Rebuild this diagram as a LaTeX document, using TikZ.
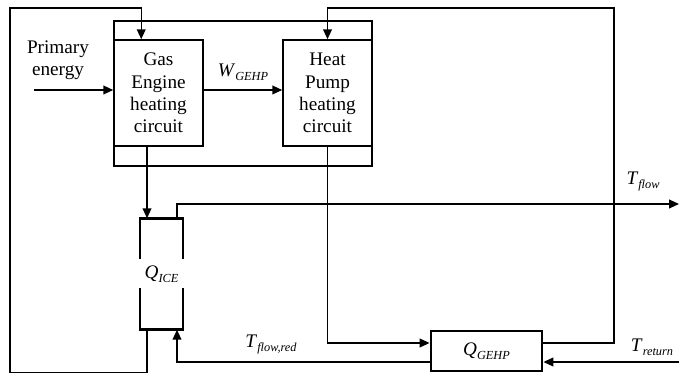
\documentclass[tikz,border=0pt]{standalone}
\usepackage{fontspec}
\setmainfont{Liberation Serif}
\usetikzlibrary{arrows.meta,calc}

% italic quantity with lowered subscript
\newcommand{\quant}[2]{\textit{#1}\raisebox{-0.45ex}{\fontsize{10.5}{10.5}\selectfont\itshape #2}}

\begin{document}
\begin{tikzpicture}[x=0.03cm, y=0.03cm, line width=1.25pt,
    >={Triangle[length=8.5pt,width=7.5pt]},
    every node/.style={font=\fontsize{16.4}{19}\selectfont},
    unit/.style={draw, line width=1.3pt, align=center, minimum width=2.67cm, minimum height=3.18cm},
    hx/.style={line width=2.4pt}]
    \useasboundingbox (0,0) rectangle (679,374);

    % Engine frame
    \node[draw, line width=2.4pt, minimum width=7.74cm, minimum height=4.35cm] (frame) at (243,280.5) {};

    % Heating circuits
    \node[unit] (gas) at (158.5,281) {Gas\\Engine\\heating\\circuit};
    \node[unit] (hp) at (327.5,281) {Heat\\Pump\\heating\\circuit};

    % Heat exchangers
    \node[minimum width=1.23cm, minimum height=3.3cm] (qice) at (161.5,100) {\quant{Q}{ICE}};
    \draw[hx] ($(qice.west)+(0,14.5)$) -- (qice.north west) -- (qice.north east) -- ($(qice.east)+(0,14.5)$);
    \draw[hx] ($(qice.west)+(0,-14.5)$) -- (qice.south west) -- (qice.south east) -- ($(qice.east)+(0,-14.5)$);
    \node[draw, line width=2.4pt, minimum width=3.33cm, minimum height=1.2cm] (qgehp) at (486.5,23) {\quant{Q}{GEHP}};

    % Labels
    \node[align=center] (prim) at (58,314) {Primary\\energy};
    \node (wgehp) at (243,302) {\quant{W}{GEHP}};
    \node (tflow) at (643,192) {\quant{T}{flow}};
    \node (tred) at (271,29) {\quant{T}{flow,red}};
    \node (tret) at (652,27) {\quant{T}{return}};

    % Energy flows
    \draw[->] (34,284) -- ($(gas.west)+(0,3)$);
    \draw[->] ($(gas.east)+(0,3)$) -- ($(hp.west)+(0,3)$);

    % Gas engine circuit
    \coordinate (icein) at ($(qice.north west)+(7,0)$);
    \draw[->] (gas.south -| icein) -- (icein);
    \draw[->] ($(qice.south west)+(7,0)$) -- ++(0,-43) -| (10,366) -| ($(gas.north west)+(28,0)$);

    % Heat pump circuit
    \draw[->] (hp.south) |- ($(qgehp.west)+(0,8)$);
    \draw[->] ($(qgehp.east)+(0,8)$) -| (614,366) -| (hp.north);

    % Supply and return
    \draw[->] ($(qice.north east)+(-6,0)$) |- (679,170);
    \draw[->] (679,12) -- ($(qgehp.east)+(0,-11)$);
    \draw[->] ($(qgehp.west)+(0,-11)$) -| ($(qice.south east)+(-6,0)$);
\end{tikzpicture}
\end{document}
